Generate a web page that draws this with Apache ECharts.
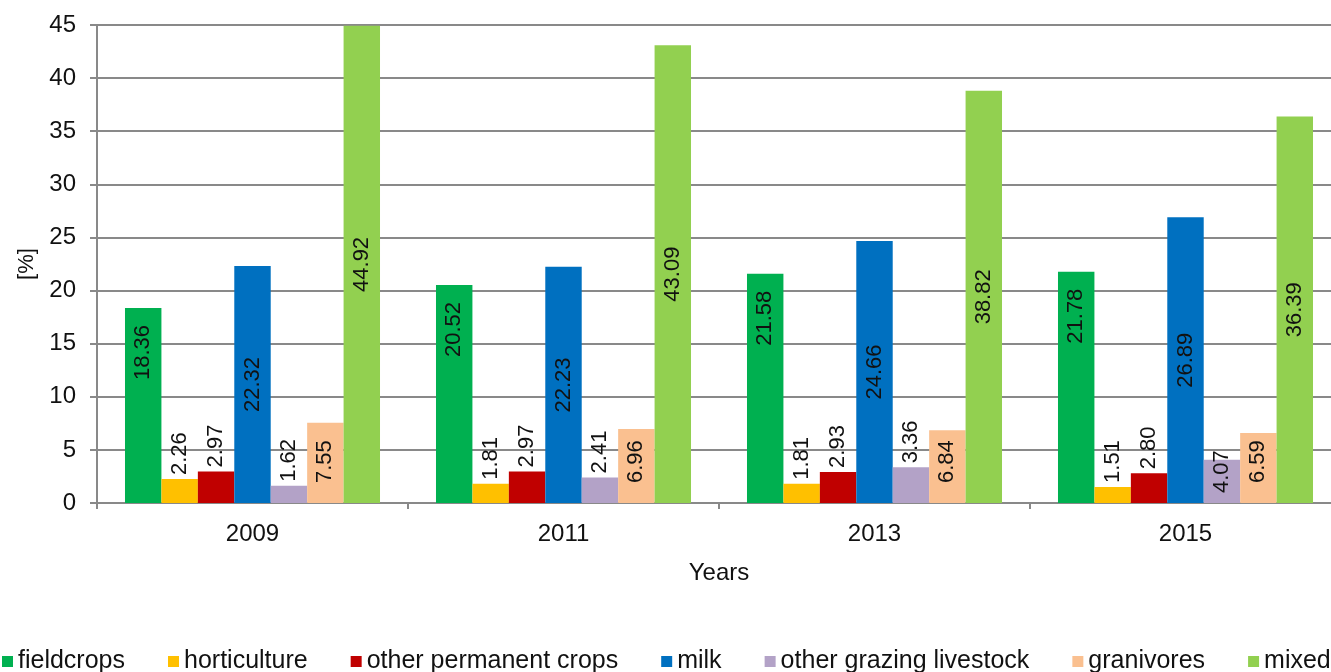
<!DOCTYPE html>
<html>
<head>
<meta charset="utf-8">
<script src="https://cdn.jsdelivr.net/npm/echarts@6/dist/echarts.min.js"></script>
<style>
  html, body { margin: 0; padding: 0; background: #fff; }
  #chart { width: 1331px; height: 672px; }
</style>
</head>
<body>
<div id="chart"></div>
<script>
// Share of farm types by year [%]
const years = ['2009', '2011', '2013', '2015'];
const fieldcrops = [18.36, 20.52, 21.58, 21.78];
const horticulture = [2.26, 1.81, 1.81, 1.51];
const otherPermanentCrops = [2.97, 2.97, 2.93, 2.80];
const milk = [22.32, 22.23, 24.66, 26.89];
const otherGrazingLivestock = [1.62, 2.41, 3.36, 4.07];
const granivores = [7.55, 6.96, 6.84, 6.59];
const mixed = [44.92, 43.09, 38.82, 36.39];
const yTicks = [0, 5, 10, 15, 20, 25, 30, 35, 40, 45];

const FONT = '"Liberation Sans", Arial, sans-serif';
const GRID_GREY = '#898989';

const baseLabel = {
  show: true,
  rotate: 90,
  fontFamily: FONT,
  fontSize: 22,
  color: '#111',
  formatter: p => Number(p.value).toFixed(2)
};
const labelAbove = Object.assign({}, baseLabel, { position: 'top', align: 'left', verticalAlign: 'middle', distance: 4 });
const labelInsideTop = Object.assign({}, baseLabel, { position: 'insideTop', align: 'right', verticalAlign: 'middle', distance: 17 });
const labelCentre = Object.assign({}, baseLabel, { position: 'inside', align: 'center', verticalAlign: 'middle' });
const labelInsideBottom = d => Object.assign({}, baseLabel, { position: 'insideBottom', align: 'left', verticalAlign: 'middle', distance: d });

function barSeries(name, values, color, label) {
  return {
    name: name,
    type: 'bar',
    data: values,
    itemStyle: { color: color },
    label: label,
    barGap: '0%',
    barCategoryGap: '18%',
    animation: false
  };
}

// taller grazing-livestock bars carry their label inside the bar
const grazingData = otherGrazingLivestock.map(v =>
  v > 4 ? { value: v, label: labelInsideBottom(10) } : v
);

const chart = echarts.init(document.getElementById('chart'), null, { renderer: 'canvas' });
chart.setOption({
  backgroundColor: '#ffffff',
  animation: false,
  textStyle: { fontFamily: FONT },
  // the plot runs slightly past the right edge of the canvas
  grid: { left: 97, width: 1244, top: 25, height: 478, containLabel: false, outerBoundsMode: 'none' },
  legend: {
    left: -3,
    top: 644,
    width: 1500,
    itemWidth: 11,
    itemHeight: 11,
    itemGap: 43,
    icon: 'rect',
    textStyle: { fontFamily: FONT, fontSize: 25, color: '#111', lineHeight: 25 },
    data: ['fieldcrops', 'horticulture', 'other permanent crops', 'milk',
           'other grazing livestock', 'granivores', 'mixed']
  },
  xAxis: {
    type: 'category',
    data: years,
    name: 'Years',
    nameLocation: 'middle',
    nameGap: 58,
    nameTextStyle: { fontFamily: FONT, fontSize: 24, color: '#111' },
    axisLine: { lineStyle: { color: GRID_GREY, width: 2 } },
    axisTick: { show: true, alignWithLabel: false, length: 6, lineStyle: { color: GRID_GREY, width: 2 } },
    axisLabel: { fontFamily: FONT, fontSize: 24, color: '#111', margin: 19 },
    splitLine: { show: false }
  },
  yAxis: {
    type: 'value',
    min: yTicks[0],
    max: yTicks[yTicks.length - 1],
    interval: yTicks[1] - yTicks[0],
    name: '[%]',
    nameLocation: 'middle',
    nameRotate: 90,
    nameGap: 58,
    nameTextStyle: { fontFamily: FONT, fontSize: 22, color: '#111' },
    axisLine: { show: true, lineStyle: { color: GRID_GREY, width: 2 } },
    axisTick: { show: true, length: 7, lineStyle: { color: GRID_GREY, width: 2 } },
    axisLabel: { fontFamily: FONT, fontSize: 24, color: '#111', margin: 21 },
    splitLine: { show: true, lineStyle: { color: GRID_GREY, width: 2 } }
  },
  series: [
    barSeries('fieldcrops', fieldcrops, '#00B050', labelInsideTop),
    barSeries('horticulture', horticulture, '#FFC000', labelAbove),
    barSeries('other permanent crops', otherPermanentCrops, '#C00000', labelAbove),
    barSeries('milk', milk, '#0070C0', labelCentre),
    barSeries('other grazing livestock', grazingData, '#B3A2C7', labelAbove),
    barSeries('granivores', granivores, '#FAC090', labelInsideBottom(20)),
    barSeries('mixed', mixed, '#92D050', labelCentre)
  ]
});
</script>
</body>
</html>
